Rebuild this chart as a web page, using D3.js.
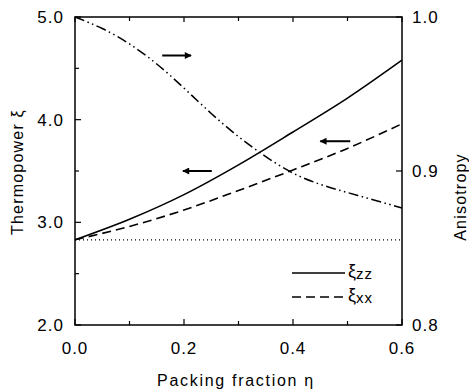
<!DOCTYPE html>
<html>
<head>
<meta charset="utf-8">
<script src="https://cdn.jsdelivr.net/npm/d3@7"></script>
<style>
  body { margin: 0; background: #fff; }
  text { font-family: "Liberation Sans", Arial, sans-serif; fill: #000; }
</style>
</head>
<body>
<div id="chart"></div>
<script>
// packing fraction grid
var eta = [0, 0.1, 0.2, 0.3, 0.4, 0.5, 0.6];
var xiZZ = [2.83, 3.03, 3.27, 3.56, 3.88, 4.21, 4.58];
var xiXX = [2.83, 2.96, 3.12, 3.31, 3.51, 3.72, 3.96];

// anisotropy (right axis)
var etaA = [0, 0.05, 0.1, 0.15, 0.2, 0.25, 0.3, 0.35, 0.4, 0.45, 0.5, 0.55, 0.6];
var aniso = [1.0, 0.993, 0.983, 0.970, 0.954, 0.937, 0.922, 0.909, 0.898, 0.891, 0.886, 0.881, 0.876];

var baseXi = 2.83;

var xTicks = [0, 0.2, 0.4, 0.6];
var xMinor = [0.1, 0.3, 0.5];
var yTicks = [2, 3, 4, 5];
var yMinor = [2.5, 3.5, 4.5];
var y2Ticks = [0.8, 0.9, 1.0];

// arrows: [from eta, to eta, value, axis]
var arrows = [
  [0.160, 0.213, 0.975, "right"],
  [0.251, 0.198, 3.50, "left"],
  [0.505, 0.450, 3.79, "left"]
];

var W = 469, H = 392;
var margin = { top: 17, right: 67, bottom: 67, left: 75 };
var width = 402 - margin.left;
var height = 325 - margin.top;

var svg = d3.select("#chart").append("svg")
  .attr("width", W).attr("height", H);

var defs = svg.append("defs");
defs.append("marker")
  .attr("id", "head")
  .attr("viewBox", "0 0 10 10")
  .attr("refX", 9).attr("refY", 5)
  .attr("markerWidth", 9).attr("markerHeight", 7)
  .attr("markerUnits", "userSpaceOnUse")
  .attr("orient", "auto")
  .append("path").attr("d", "M0,0 L10,5 L0,10 Z").attr("fill", "#000");

var g = svg.append("g")
  .attr("transform", "translate(" + margin.left + "," + margin.top + ")");

var x = d3.scaleLinear().domain([0, 0.6]).range([0, width]);
var y = d3.scaleLinear().domain([2, 5]).range([height, 0]);
var y2 = d3.scaleLinear().domain([0.8, 1.0]).range([height, 0]);

// frame
g.append("rect")
  .attr("width", width).attr("height", height)
  .attr("fill", "none").attr("stroke", "#000").attr("stroke-width", 1.5);

// ticks (inward)
function tickLines(vals, len, side) {
  g.selectAll(null).data(vals).enter().append("line")
    .attr("x1", function (d) { return side == "bottom" || side == "top" ? x(d) : (side == "left" ? 0 : width); })
    .attr("x2", function (d) { return side == "bottom" || side == "top" ? x(d) : (side == "left" ? len : width - len); })
    .attr("y1", function (d) { return side == "bottom" ? height : side == "top" ? 0 : (side == "left" ? y(d) : y2(d)); })
    .attr("y2", function (d) { return side == "bottom" ? height - len : side == "top" ? len : (side == "left" ? y(d) : y2(d)); })
    .attr("stroke", "#000").attr("stroke-width", 1.2);
}
tickLines(xTicks, 6, "bottom");
tickLines(xMinor, 4, "bottom");
tickLines(xTicks, 5, "top");
tickLines(xMinor, 4, "top");
tickLines(yTicks, 6, "left");
tickLines(yMinor, 4, "left");
tickLines(y2Ticks, 6, "right");

// tick labels
g.selectAll(null).data(xTicks).enter().append("text")
  .attr("x", function (d) { return x(d); })
  .attr("y", height + 29)
  .attr("text-anchor", "middle")
  .attr("font-size", 17)
  .attr("letter-spacing", 1)
  .text(function (d) { return d3.format(".1f")(d); });

g.selectAll(null).data(yTicks).enter().append("text")
  .attr("x", -11)
  .attr("y", function (d) { return y(d) + 6; })
  .attr("text-anchor", "end")
  .attr("font-size", 17)
  .attr("letter-spacing", 1)
  .text(function (d) { return d3.format(".1f")(d); });

g.selectAll(null).data(y2Ticks).enter().append("text")
  .attr("x", width + 10)
  .attr("y", function (d) { return y2(d) + 6; })
  .attr("text-anchor", "start")
  .attr("font-size", 17)
  .attr("letter-spacing", 1)
  .text(function (d) { return d3.format(".1f")(d); });

// axis titles
svg.append("text")
  .attr("x", 236).attr("y", 386)
  .attr("text-anchor", "middle")
  .attr("font-size", 16)
  .attr("letter-spacing", 1.7)
  .text("Packing fraction η");

svg.append("text")
  .attr("transform", "translate(23,172) rotate(-90)")
  .attr("text-anchor", "middle")
  .attr("font-size", 16)
  .attr("letter-spacing", 1.2)
  .text("Thermopower ξ");

svg.append("text")
  .attr("transform", "translate(466,197) rotate(-90)")
  .attr("text-anchor", "middle")
  .attr("font-size", 16)
  .attr("letter-spacing", 1.2)
  .text("Anisotropy");

// curves
var lineXi = d3.line()
  .x(function (d, i) { return x(eta[i]); })
  .y(function (d) { return y(d); })
  .curve(d3.curveMonotoneX);

var lineA = d3.line()
  .x(function (d, i) { return x(etaA[i]); })
  .y(function (d) { return y2(d); })
  .curve(d3.curveBasis);

g.append("line")
  .attr("x1", x(0)).attr("x2", x(0.6))
  .attr("y1", y(baseXi)).attr("y2", y(baseXi))
  .attr("stroke", "#000").attr("stroke-width", 1.2)
  .attr("stroke-dasharray", "1,3");

g.append("path").datum(xiZZ)
  .attr("d", lineXi)
  .attr("fill", "none").attr("stroke", "#000").attr("stroke-width", 1.6);

g.append("path").datum(xiXX)
  .attr("d", lineXi)
  .attr("fill", "none").attr("stroke", "#000").attr("stroke-width", 1.6)
  .attr("stroke-dasharray", "9,5");

g.append("path").datum(aniso)
  .attr("d", lineA)
  .attr("fill", "none").attr("stroke", "#000").attr("stroke-width", 1.5)
  .attr("stroke-dasharray", "10,3.5,1.5,3.5,1.5,3.5");

// arrows
arrows.forEach(function (a) {
  var yy = a[3] == "right" ? y2(a[2]) : y(a[2]);
  g.append("line")
    .attr("x1", x(a[0])).attr("x2", x(a[1]))
    .attr("y1", yy).attr("y2", yy)
    .attr("stroke", "#000").attr("stroke-width", 2)
    .attr("marker-end", "url(#head)");
});

// legend
var legend = [
  { name: "zz", dash: null, yy: 273 },
  { name: "xx", dash: "9,5", yy: 297 }
];
legend.forEach(function (l) {
  svg.append("line")
    .attr("x1", 292).attr("x2", 345)
    .attr("y1", l.yy).attr("y2", l.yy)
    .attr("stroke", "#000").attr("stroke-width", 1.5)
    .attr("stroke-dasharray", l.dash);
  var t = svg.append("text")
    .attr("x", 348).attr("y", l.yy + 4)
    .attr("font-size", 18);
  t.append("tspan").text("ξ");
  t.append("tspan").attr("font-size", 15).attr("dy", 2).attr("letter-spacing", 1).text(l.name);
});
</script>
</body>
</html>
